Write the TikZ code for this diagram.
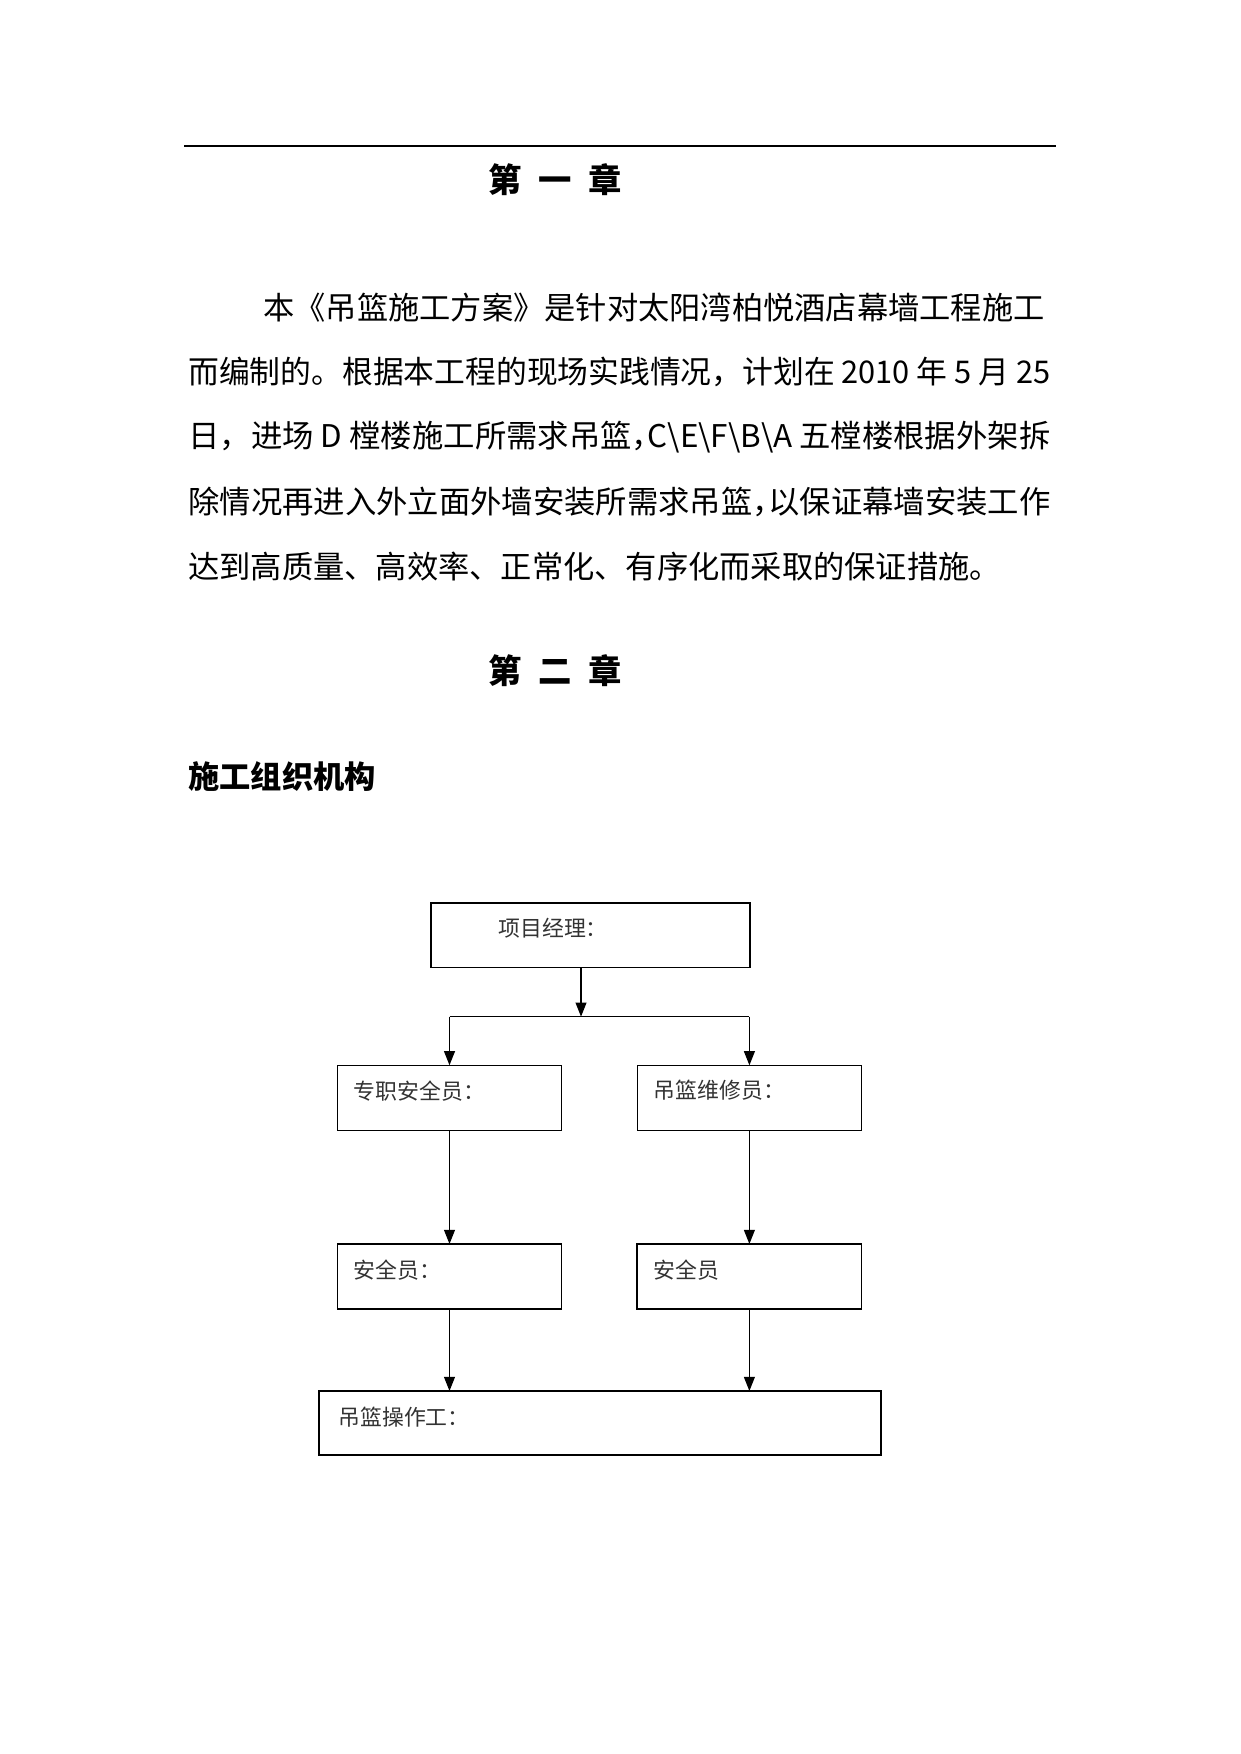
\documentclass[tikz,border=0pt]{standalone}
\usepackage{fontspec}
\setmainfont{Noto Sans CJK SC}
\usepackage{graphicx}
\usetikzlibrary{arrows.meta}
\begin{document}
\begin{tikzpicture}[x=0.48pt,y=-0.48pt,
  box/.style={draw, rectangle, inner sep=0pt, outer sep=0pt, line width=0.6pt},
  lbl/.style={anchor=west, inner sep=0pt, font=\fontsize{10.5pt}{12pt}\selectfont, text=black!80},
  bodyline/.style={anchor=west, inner sep=0pt, font=\fontsize{15pt}{18pt}\selectfont},
  chap/.style={inner sep=0pt, font=\fontsize{16pt}{19pt}\selectfont\bfseries},
  arr/.style={-{Triangle[length=6.8pt,width=5.2pt]}, line width=0.75pt}]
\useasboundingbox[fill=white] (0,0) rectangle (1241,1754);
\coordinate (rl) at (184,146);
\coordinate (rr) at (1056,146);
\draw[line width=0.65pt] (rl) -- (rr);

\node[chap] (c1) at (555,180) {第\hspace{0.5em}一\hspace{0.5em}章};
\node[bodyline] (p1) at (263,307.7) {本《吊篮施工方案》是针对太阳湾柏悦酒店幕墙工程施工};
\node[bodyline] (p2) at (188,372.3) {\resizebox{413.76pt}{\height}{而编制的。根据本工程的现场实践情况，计划在 2010 年 5 月 25}};
\node[bodyline] (p3) at (188,437) {\resizebox{413.76pt}{\height}{日，进场 D 樘楼施工所需求吊篮\makebox[0.5em][l]{，}C\textbackslash E\textbackslash F\textbackslash B\textbackslash A 五樘楼根据外架拆}};
\node[bodyline] (p4) at (188,501.6) {\resizebox{413.76pt}{\height}{除情况再进入外立面外墙安装所需求吊篮\makebox[0.5em][l]{，}以保证幕墙安装工作}};
\node[bodyline] (p5) at (188,566.2) {达到高质量、高效率、正常化、有序化而采取的保证措施。};
\node[chap] (c2) at (555,671) {第\hspace{0.5em}二\hspace{0.5em}章};
\node[bodyline, font=\fontsize{15pt}{18pt}\selectfont\bfseries] (sec) at (188,776.6) {施工组织机构};

\node[box, line width=0.8pt, minimum width=153.07pt, minimum height=30.96pt] (pm) at (590.25,935.25) {};
\node[box, line width=0.5pt, minimum width=107.71pt, minimum height=31.15pt] (s1) at (449.5,1097.75) {};
\node[box, line width=0.5pt, minimum width=107.71pt, minimum height=31.15pt] (r1) at (749.4,1097.75) {};
\node[box, line width=0.75pt, minimum width=107.71pt, minimum height=31.2pt] (s2) at (449.5,1276.5) {};
\node[box, line width=0.75pt, minimum width=107.71pt, minimum height=31.2pt] (r2) at (749.4,1276.5) {};
\node[box, line width=0.6pt, minimum width=269.76pt, minimum height=30.72pt] (op) at (600,1423) {};

\node[lbl] (t0) at (498,927.7) {项目经理：};
\node[lbl] (t1) at (353.5,1090.6) {专职安全员：};
\node[lbl] (t2) at (653.5,1090.6) {吊篮维修员：};
\node[lbl] (t3) at (353.5,1270.5) {安全员：};
\node[lbl] (t4) at (653.5,1270.5) {安全员};
\node[lbl] (t5) at (338,1417.6) {吊篮操作工：};

\coordinate (j) at (581,1016.7);
\coordinate (jl) at (s1.north |- j);
\coordinate (jr) at (r1.north |- j);
\draw[arr] (pm.south -| j) -- (j);
\draw[line width=0.6pt] (jl) -- (jr);
\draw[arr] (jl) -- (s1.north);
\draw[arr] (jr) -- (r1.north);
\draw[arr] (s1.south) -- (s2.north);
\draw[arr] (r1.south) -- (r2.north);
\draw[arr] (s2.south) -- (op.north -| s2.south);
\draw[arr] (r2.south) -- (op.north -| r2.south);
\end{tikzpicture}
\end{document}
